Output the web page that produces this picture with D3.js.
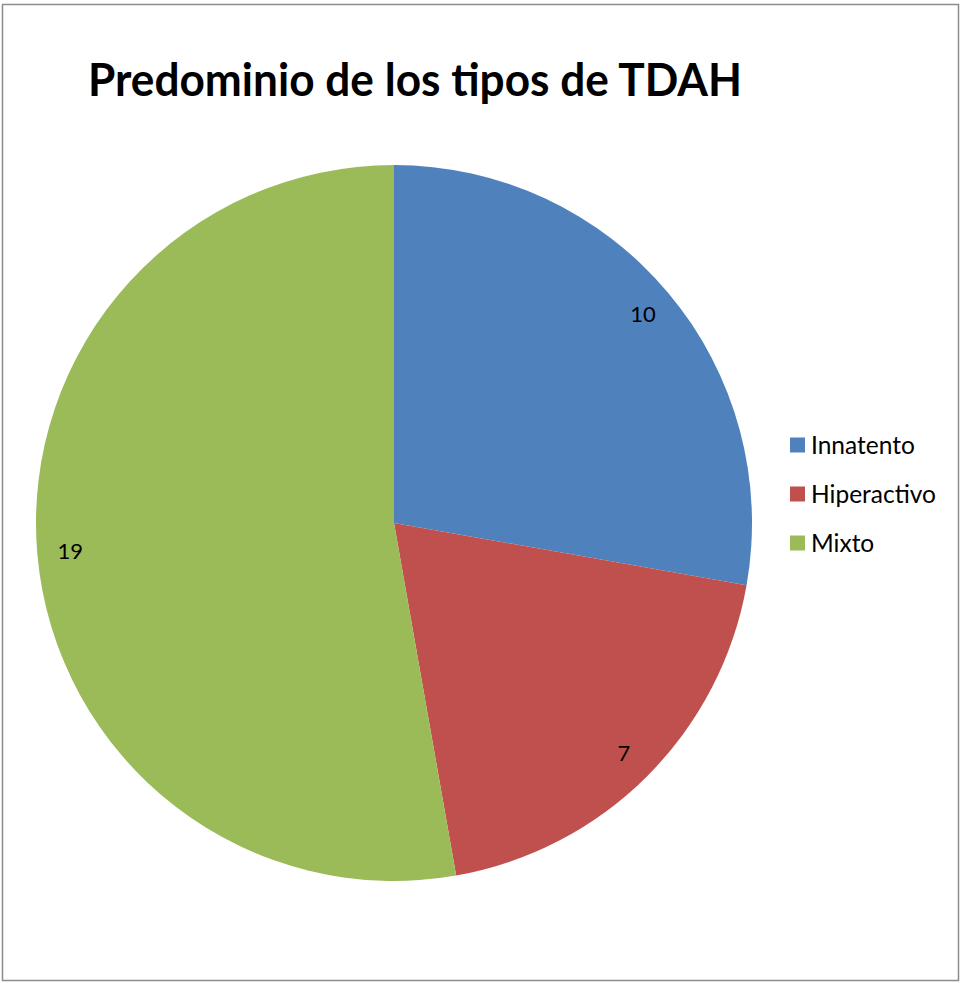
<!DOCTYPE html>
<html><head><meta charset="utf-8">
<script src="https://cdn.jsdelivr.net/npm/d3@7"></script>
<style>html,body{margin:0;padding:0;background:#fff;}svg{display:block;}</style>
</head><body>
<svg id="chart" width="961" height="983"></svg>
<script>
const categories = ["Innatento", "Hiperactivo", "Mixto"];
const values = [10, 7, 19];
const colors = ["#4F81BD", "#C0504D", "#9BBB59"];
const title = "Predominio de los tipos de TDAH";

const svg = d3.select("#chart");
const font = "Lato, 'Open Sans', sans-serif";

svg.append("rect").attr("x", 2.5).attr("y", 4.5).attr("width", 956).attr("height", 976)
  .attr("fill", "#fff").attr("stroke", "#8c8c8c").attr("stroke-width", 1.5);

svg.append("text").attr("x", 88).attr("y", 96).text(title)
  .attr("font-family", font).attr("font-weight", "bold").attr("font-size", 46)
  .attr("textLength", 654).attr("lengthAdjust", "spacingAndGlyphs").attr("fill", "#000");

const cx = 394, cy = 523, R = 358;
const pie = d3.pie().sort(null).value(d => d)(values);
const arc = d3.arc().innerRadius(0).outerRadius(R);
const labelArc = d3.arc().innerRadius(325).outerRadius(325);
const g = svg.append("g").attr("transform", `translate(${cx},${cy})`);
g.selectAll("path").data(pie).join("path")
  .attr("d", arc).attr("fill", (d, i) => colors[i]);
g.selectAll("text").data(pie).join("text")
  .attr("transform", d => `translate(${labelArc.centroid(d)})`)
  .attr("text-anchor", "middle").attr("dy", "0.36em")
  .attr("font-family", font).attr("font-size", 22).attr("fill", "#000")
  .text(d => d.data);

const ly = d3.scalePoint().domain(categories).range([445, 543]);
const lg = svg.append("g");
lg.selectAll("rect").data(categories).join("rect")
  .attr("x", 790).attr("y", d => ly(d) - 7.5).attr("width", 15).attr("height", 15)
  .attr("fill", (d, i) => colors[i]);
lg.selectAll("text").data(categories).join("text")
  .attr("x", 811).attr("y", d => ly(d) + 8.5)
  .attr("font-family", font).attr("font-size", 24.5).attr("fill", "#000")
  .text(d => d);
</script>
</body></html>
